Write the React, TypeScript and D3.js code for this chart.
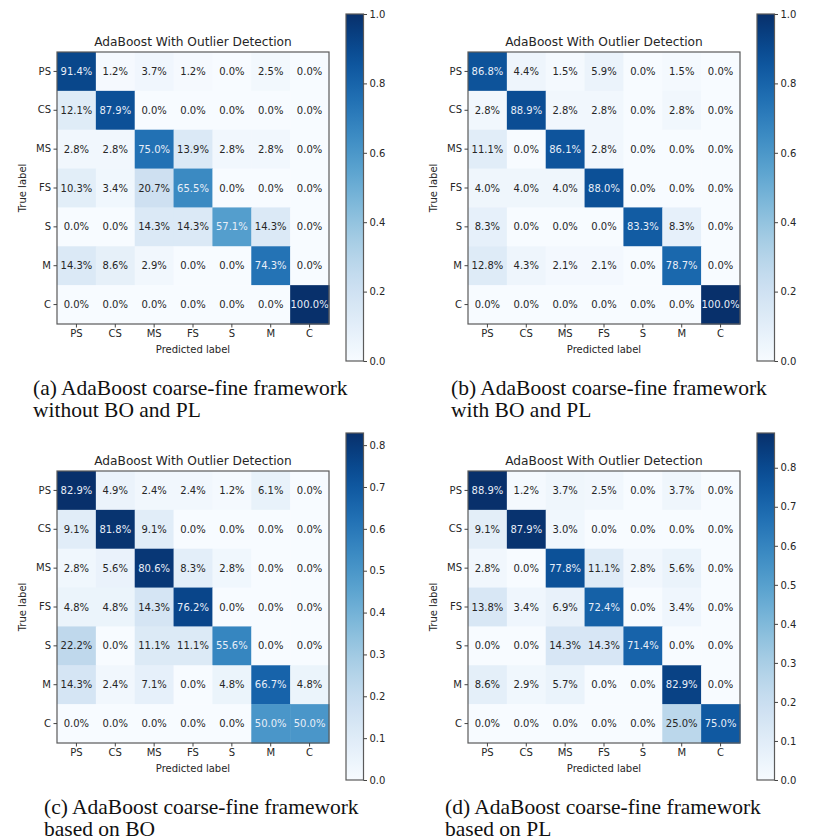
import React, { useEffect, useRef } from "react";
import * as d3 from "d3";

const classes = ["PS", "CS", "MS", "FS", "S", "M", "C"];

// rows = true label, cols = predicted label (percent)
const matrixA = [
  [91.4, 1.2, 3.7, 1.2, 0.0, 2.5, 0.0],
  [12.1, 87.9, 0.0, 0.0, 0.0, 0.0, 0.0],
  [2.8, 2.8, 75.0, 13.9, 2.8, 2.8, 0.0],
  [10.3, 3.4, 20.7, 65.5, 0.0, 0.0, 0.0],
  [0.0, 0.0, 14.3, 14.3, 57.1, 14.3, 0.0],
  [14.3, 8.6, 2.9, 0.0, 0.0, 74.3, 0.0],
  [0.0, 0.0, 0.0, 0.0, 0.0, 0.0, 100.0],
];
const matrixB = [
  [86.8, 4.4, 1.5, 5.9, 0.0, 1.5, 0.0],
  [2.8, 88.9, 2.8, 2.8, 0.0, 2.8, 0.0],
  [11.1, 0.0, 86.1, 2.8, 0.0, 0.0, 0.0],
  [4.0, 4.0, 4.0, 88.0, 0.0, 0.0, 0.0],
  [8.3, 0.0, 0.0, 0.0, 83.3, 8.3, 0.0],
  [12.8, 4.3, 2.1, 2.1, 0.0, 78.7, 0.0],
  [0.0, 0.0, 0.0, 0.0, 0.0, 0.0, 100.0],
];
const matrixC = [
  [82.9, 4.9, 2.4, 2.4, 1.2, 6.1, 0.0],
  [9.1, 81.8, 9.1, 0.0, 0.0, 0.0, 0.0],
  [2.8, 5.6, 80.6, 8.3, 2.8, 0.0, 0.0],
  [4.8, 4.8, 14.3, 76.2, 0.0, 0.0, 0.0],
  [22.2, 0.0, 11.1, 11.1, 55.6, 0.0, 0.0],
  [14.3, 2.4, 7.1, 0.0, 4.8, 66.7, 4.8],
  [0.0, 0.0, 0.0, 0.0, 0.0, 50.0, 50.0],
];
const matrixD = [
  [88.9, 1.2, 3.7, 2.5, 0.0, 3.7, 0.0],
  [9.1, 87.9, 3.0, 0.0, 0.0, 0.0, 0.0],
  [2.8, 0.0, 77.8, 11.1, 2.8, 5.6, 0.0],
  [13.8, 3.4, 6.9, 72.4, 0.0, 3.4, 0.0],
  [0.0, 0.0, 14.3, 14.3, 71.4, 0.0, 0.0],
  [8.6, 2.9, 5.7, 0.0, 0.0, 82.9, 0.0],
  [0.0, 0.0, 0.0, 0.0, 0.0, 25.0, 75.0],
];

const colorbarTicksAB = [0, 0.2, 0.4, 0.6, 0.8, 1.0];
const colorbarTicksCD = [0, 0.1, 0.2, 0.3, 0.4, 0.5, 0.6, 0.7, 0.8];

const captionsA = ["(a) AdaBoost coarse-fine framework", "without BO and PL"];
const captionsB = ["(b) AdaBoost coarse-fine framework", "with BO and PL"];
const captionsC = ["(c) AdaBoost coarse-fine framework", "based on BO"];
const captionsD = ["(d) AdaBoost coarse-fine framework", "based on PL"];

const title = "AdaBoost With Outlier Detection";

const panels = [
  { m: matrixA, ticks: colorbarTicksAB, cap: captionsA, ox: 0, oy: 0, capX: 33 },
  { m: matrixB, ticks: colorbarTicksAB, cap: captionsB, ox: 411, oy: 0, capX: 40 },
  { m: matrixC, ticks: colorbarTicksCD, cap: captionsC, ox: 0, oy: 419, capX: 44 },
  { m: matrixD, ticks: colorbarTicksCD, cap: captionsD, ox: 411, oy: 419, capX: 34 },
];

const W = 814, H = 840;
const mx = 57, my = 52, msize = 272;
const cbX = 346, cbW = 17.5, cbTop = 14, cbBot = 361;
const font = "DejaVu Sans, sans-serif";
const ink = "#262626";

let drawPanel = (svg, p, idx) => {
  const g = svg.append("g").attr("transform", `translate(${p.ox},${p.oy})`);
  const vmax = d3.max(p.m, r => d3.max(r)) / 100;
  const color = d3.scaleSequential(d3.interpolateBlues).domain([0, vmax]);

  const x = d3.scaleBand().domain(classes).range([mx, mx + msize]);
  const y = d3.scaleBand().domain(classes).range([my, my + msize]);

  const cells = [];
  p.m.forEach((row, i) => row.forEach((v, j) => cells.push({ r: classes[i], c: classes[j], v: v / 100 })));

  g.selectAll("rect.cell").data(cells).enter().append("rect")
    .attr("class", "cell")
    .attr("x", d => x(d.c))
    .attr("y", d => y(d.r))
    .attr("width", x.bandwidth() + 0.5)
    .attr("height", y.bandwidth() + 0.5)
    .attr("fill", d => color(d.v));

  g.selectAll("text.val").data(cells).enter().append("text")
    .attr("class", "val")
    .attr("x", d => x(d.c) + x.bandwidth() / 2)
    .attr("y", d => y(d.r) + y.bandwidth() / 2)
    .attr("dy", "0.36em")
    .attr("text-anchor", "middle")
    .attr("font-family", font)
    .attr("font-size", 10)
    .attr("fill", d => d.v > vmax / 2 ? "#e8eef8" : ink)
    .text(d => d3.format(".1f")(d.v * 100) + "%");

  g.append("rect")
    .attr("x", mx).attr("y", my).attr("width", msize).attr("height", msize)
    .attr("fill", "none").attr("stroke", "#5a5a5a").attr("stroke-width", 1.2);

  // axes
  const xAxis = g.append("g").attr("transform", `translate(0,${my + msize})`)
    .call(d3.axisBottom(x).tickSize(3.5).tickPadding(2.5));
  const yAxis = g.append("g").attr("transform", `translate(${mx},0)`)
    .call(d3.axisLeft(y).tickSize(3.5).tickPadding(2.5));
  [xAxis, yAxis].forEach(a => {
    a.select(".domain").remove();
    a.selectAll("line").attr("stroke", "#444");
    a.selectAll("text").attr("font-family", font).attr("font-size", 10).attr("fill", ink);
  });

  g.append("text")
    .attr("x", mx + msize / 2).attr("y", my - 6)
    .attr("text-anchor", "middle").attr("font-family", font).attr("font-size", 12.2)
    .attr("fill", ink).text(title);

  g.append("text")
    .attr("x", mx + msize / 2).attr("y", 353)
    .attr("text-anchor", "middle").attr("font-family", font).attr("font-size", 10)
    .attr("fill", ink).text("Predicted label");

  g.append("text")
    .attr("transform", `translate(26,${my + msize / 2}) rotate(-90)`)
    .attr("text-anchor", "middle").attr("font-family", font).attr("font-size", 10)
    .attr("fill", ink).text("True label");

  // colorbar
  const gid = "cbgrad" + idx;
  const grad = svg.append("defs").append("linearGradient")
    .attr("id", gid).attr("x1", 0).attr("y1", 1).attr("x2", 0).attr("y2", 0);
  d3.range(0, 1.0001, 0.05).forEach(t => {
    grad.append("stop").attr("offset", t).attr("stop-color", d3.interpolateBlues(t));
  });
  g.append("rect")
    .attr("x", cbX).attr("y", cbTop).attr("width", cbW).attr("height", cbBot - cbTop)
    .attr("fill", `url(#${gid})`).attr("stroke", "#5a5a5a").attr("stroke-width", 1.2);

  const cbScale = d3.scaleLinear().domain([0, vmax]).range([cbBot, cbTop]);
  const cbAxis = g.append("g").attr("transform", `translate(${cbX + cbW},0)`)
    .call(d3.axisRight(cbScale).tickValues(p.ticks).tickFormat(d3.format(".1f")).tickSize(3.5).tickPadding(2.5));
  cbAxis.select(".domain").remove();
  cbAxis.selectAll("line").attr("stroke", "#444");
  cbAxis.selectAll("text").attr("font-family", font).attr("font-size", 10).attr("fill", ink);

  // caption
  p.cap.forEach((line, k) => {
    g.append("text")
      .attr("x", p.capX).attr("y", 395 + k * 22)
      .attr("font-family", "Liberation Serif, Times New Roman, serif")
      .attr("font-size", 21.5).attr("fill", "#111")
      .text(line);
  });
};

export default function App() {
  const ref = useRef(null);
  useEffect(() => {
    const svg = d3.select(ref.current);
    svg.selectAll("*").remove();
    svg.append("rect").attr("width", W).attr("height", H).attr("fill", "#fff");
    panels.forEach((p, i) => drawPanel(svg, p, i));
  }, []);
  return (
    <svg ref={ref} width={W} height={H} style={{ position: "absolute", left: 0, top: 0 }} />
  );
}
